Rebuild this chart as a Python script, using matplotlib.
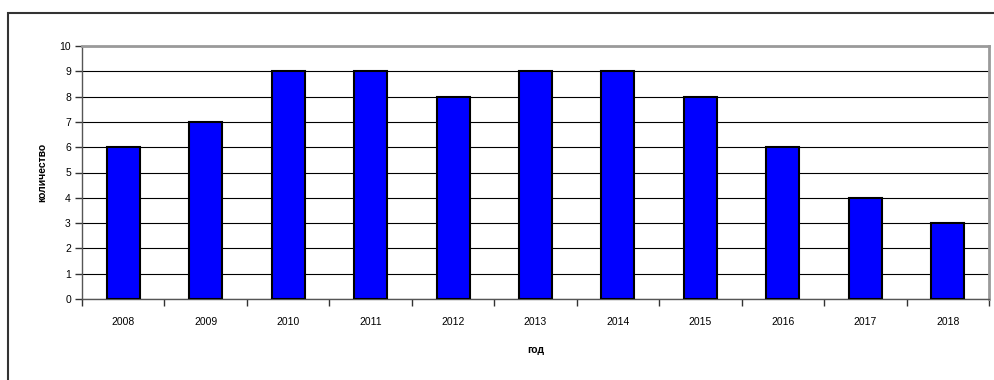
import matplotlib
matplotlib.use('Agg')
from matplotlib import pyplot as plt
from matplotlib.patches import Rectangle
import numpy as np

years = ['2008', '2009', '2010', '2011', '2012', '2013', '2014', '2015', '2016', '2017', '2018']
counts = [6, 7, 9, 9, 8, 9, 9, 8, 6, 4, 3]

plt.rcParams['font.family'] = ['Liberation Sans', 'DejaVu Sans']

fig = plt.figure(figsize=(9.94, 3.8), dpi=100)

# outer chart frame, running off the right and bottom edges
frame = Rectangle((8 / 994, -0.1), 1.1, 1.1 - 12.5 / 380,
                  transform=fig.transFigure, fill=False, edgecolor='#333333',
                  linewidth=1.5, clip_on=False)
fig.patches.append(frame)

ax = fig.add_axes([82 / 994, 81 / 380, (989 - 82) / 994, (299 - 46) / 380])

x = np.arange(len(years))
ax.bar(x, counts, width=0.4, color='#0000ff', edgecolor='black', linewidth=1.5, zorder=3)

ax.set_xlim(-0.5, len(years) - 0.5)
ax.set_ylim(0, 10)
ax.set_yticks(range(0, 11))
ax.yaxis.grid(True, color='black', linewidth=0.8, zorder=0)

# year labels centred under bars, ticks on category boundaries
ax.set_xticks(np.arange(len(years) + 1) - 0.5)
ax.set_xticklabels([])
ax.set_xticks(x, minor=True)
ax.set_xticklabels(years, minor=True)
ax.tick_params(axis='x', which='minor', length=0, pad=13, labelsize=7.5)
ax.tick_params(axis='x', which='major', length=5, width=1, color='#333333')
ax.tick_params(axis='y', length=5, width=1, color='#333333', labelsize=7.5, pad=3)

for side in ['top', 'right']:
    ax.spines[side].set_color('#9a9a9a')
    ax.spines[side].set_linewidth(2)
for side in ['left', 'bottom']:
    ax.spines[side].set_color('#555555')
    ax.spines[side].set_linewidth(1)

ax.set_xlabel('год', fontsize=7.5, fontweight='bold', labelpad=13)
ax.set_ylabel('количество', fontsize=7.5, fontweight='bold', labelpad=9)

fig.savefig('out.png', dpi=100)
